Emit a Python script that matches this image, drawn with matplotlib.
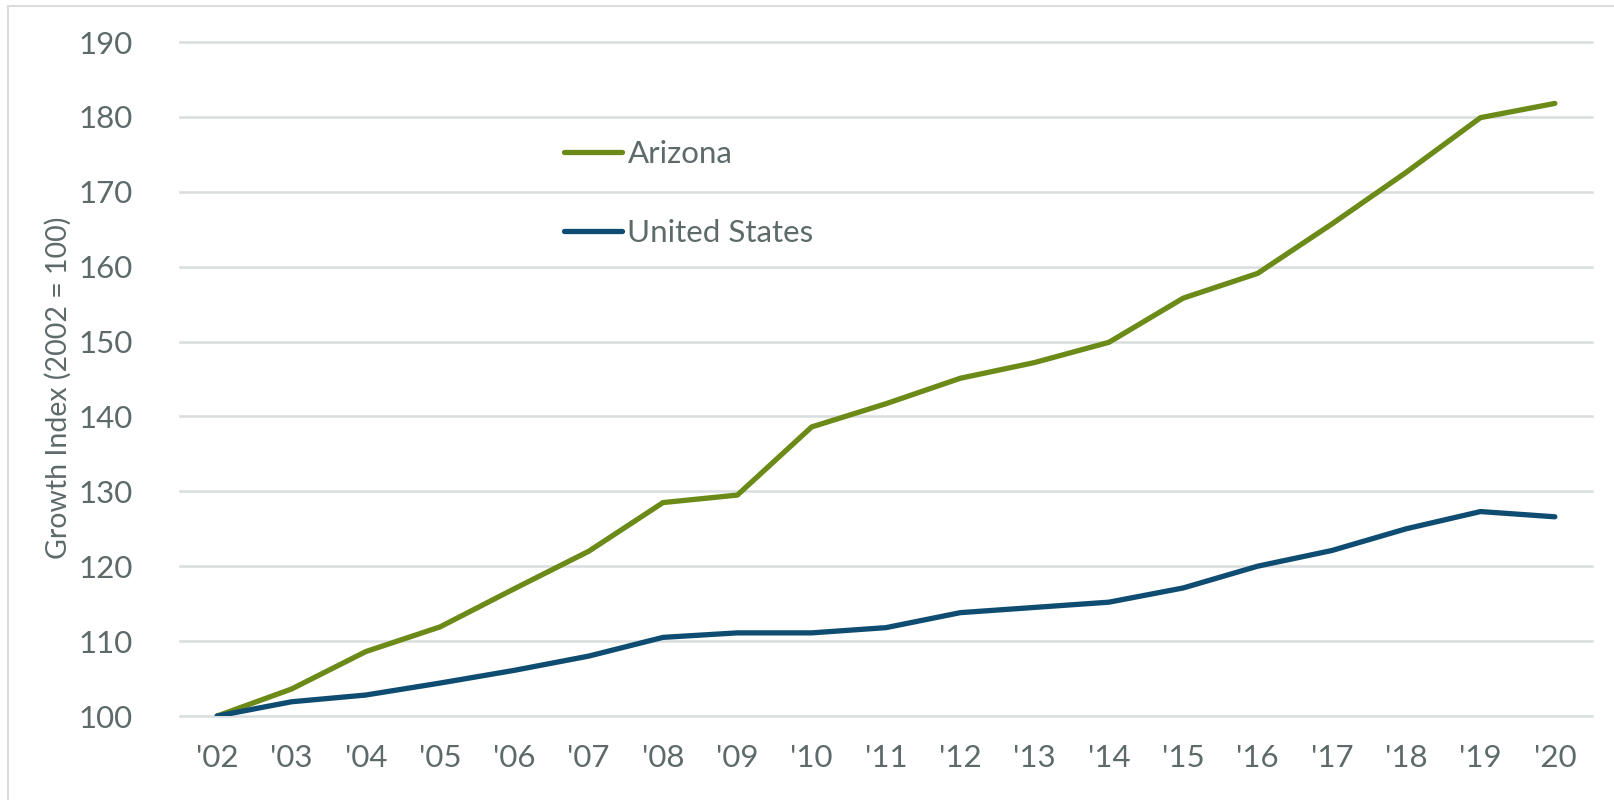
import matplotlib
matplotlib.use('Agg')
import matplotlib.pyplot as plt
from matplotlib.lines import Line2D

# --- data ---
years = ["'02", "'03", "'04", "'05", "'06", "'07", "'08", "'09", "'10", "'11",
         "'12", "'13", "'14", "'15", "'16", "'17", "'18", "'19", "'20"]
arizona = [100.0, 103.6, 108.6, 111.9, 117.0, 122.0, 128.5, 129.5, 138.6, 141.7,
           145.1, 147.2, 149.9, 155.8, 159.1, 165.7, 172.6, 179.9, 181.8]
united_states = [100.0, 101.9, 102.8, 104.4, 106.1, 108.0, 110.5, 111.1, 111.1, 111.8,
                 113.8, 114.5, 115.2, 117.1, 120.0, 122.1, 125.0, 127.3, 126.6]
yticks = list(range(100, 191, 10))

green = '#6B8A17'
blue = '#0F4C71'
grid_col = '#D9DDDD'
text_col = '#5E6A6A'

plt.rcParams['font.family'] = ['Lato', 'DejaVu Sans']

fig = plt.figure(figsize=(16.14, 8.0), dpi=100)
ax = fig.add_axes([180 / 1614, 1 - 716 / 800, (1592 - 180) / 1614, (716 - 42) / 800])

x = range(len(years))
ax.plot(x, arizona, color=green, lw=3.8, solid_capstyle='round', solid_joinstyle='round',
        label='Arizona', zorder=3)
ax.plot(x, united_states, color=blue, lw=3.8, solid_capstyle='round', solid_joinstyle='round',
        label='United States', zorder=3)

ax.set_xlim(-0.5, len(years) - 0.5)
ax.set_ylim(100, 190)
ax.set_yticks(yticks)
ax.set_xticks(list(x))
ax.set_xticklabels(years)
ax.tick_params(axis='both', length=0, labelsize=22.5, labelcolor=text_col)
ax.tick_params(axis='y', pad=34)
ax.tick_params(axis='x', pad=20)

ax.yaxis.grid(True, color=grid_col, lw=1.8)
for gl in ax.get_ygridlines():
    gl.set_clip_on(False)
ax.set_axisbelow(True)
for s in ax.spines.values():
    s.set_visible(False)

fig.text(58 / 1614, 1 - 388 / 800, 'Growth Index (2002 = 100)', rotation=90,
         ha='center', va='center', fontsize=20.5, color=text_col)

ax.legend(loc='upper left', bbox_to_anchor=(564 / 1614, 1 - 140 / 800),
          bbox_transform=fig.transFigure, frameon=False, fontsize=22.5,
          labelcolor=text_col, handlelength=1.85, handletextpad=0.18,
          borderpad=0, borderaxespad=0, labelspacing=1.62)

# light frame on the left and top edges
fig.add_artist(Line2D([8 / 1614, 8 / 1614], [0, 1 - 6 / 800], color=grid_col, lw=1.5))
fig.add_artist(Line2D([8 / 1614, 1], [1 - 6 / 800, 1 - 6 / 800], color=grid_col, lw=1.5))

plt.savefig('out.png', dpi=100)
